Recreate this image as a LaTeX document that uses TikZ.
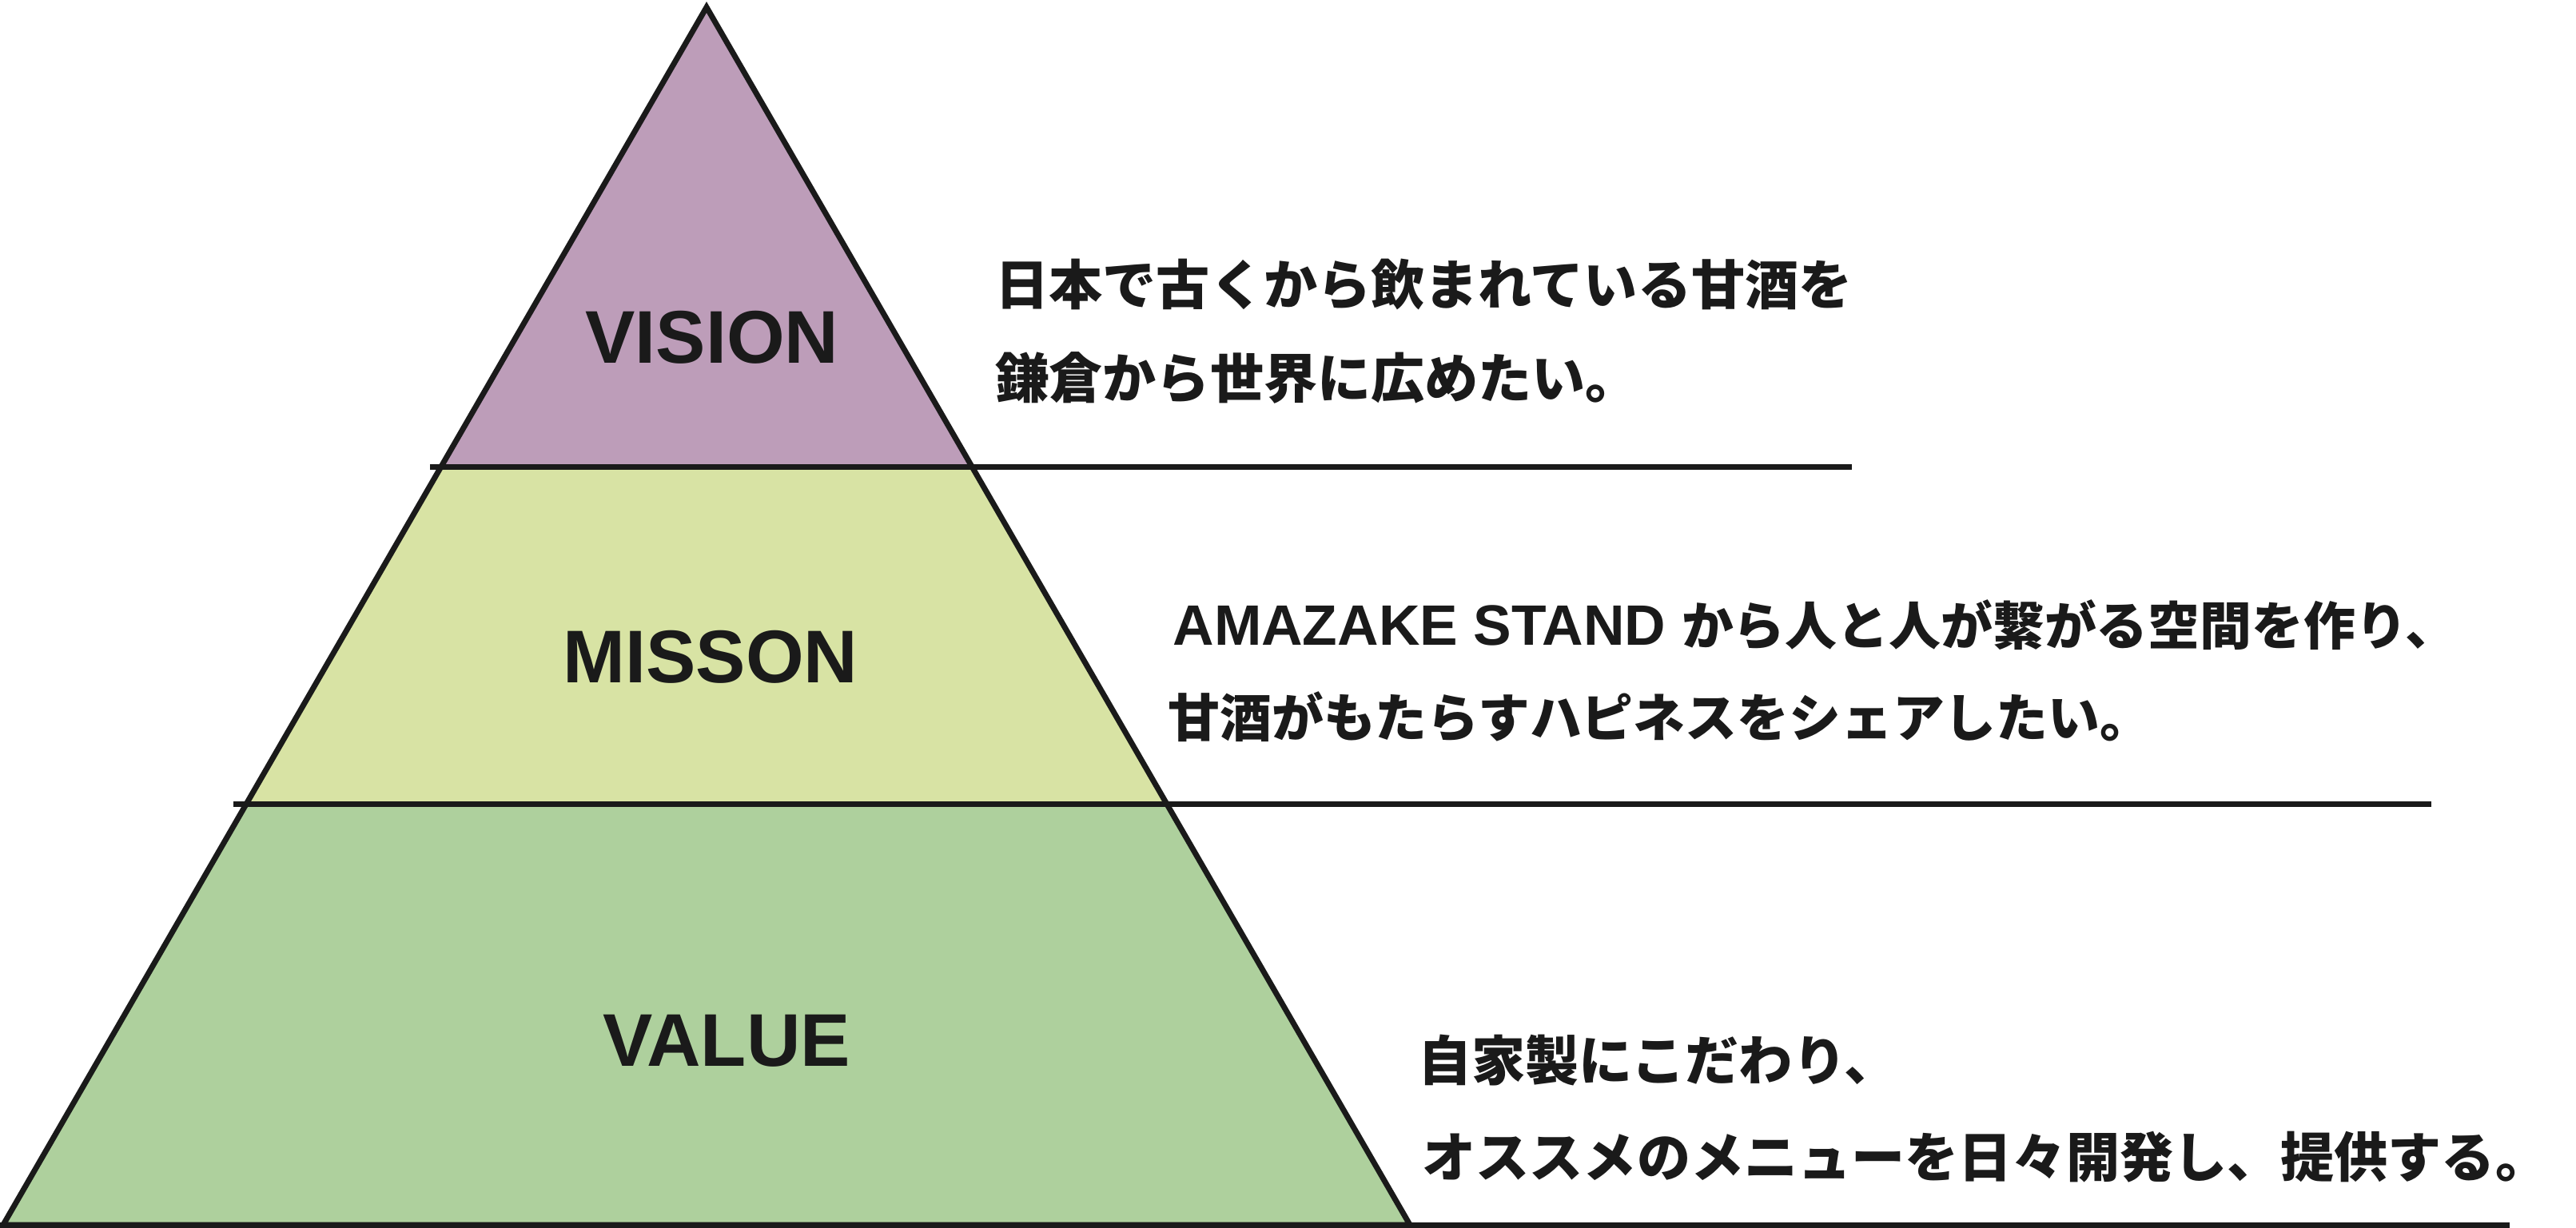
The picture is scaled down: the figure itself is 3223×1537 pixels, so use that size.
\documentclass[tikz,border=0pt]{standalone}
\usepackage{fontspec}
\setmainfont{Liberation Sans}
\newfontfamily\jpfont{Noto Sans CJK JP Black}
\newfontfamily\latfont{Liberation Sans}[Scale=1.10]
\usetikzlibrary{calc}

\definecolor{visioncol}{HTML}{BD9DB9}
\definecolor{missioncol}{HTML}{D8E3A4}
\definecolor{valuecol}{HTML}{AED09D}
\definecolor{inkcol}{HTML}{1A1A1A}

\begin{document}
\begin{tikzpicture}[x=0.1mm, y=-0.1mm, line width=0.7mm, color=inkcol,
    tierlabel/.style={font=\fontsize{26.6}{30}\selectfont\bfseries, inner sep=0},
    tiertext/.style={font=\fontsize{19.1}{22}\selectfont\jpfont, inner sep=0, anchor=base west},
    tiertextsmall/.style={tiertext, font=\fontsize{18.45}{22}\selectfont\jpfont}]

        \useasboundingbox (0,0) rectangle (3223,1537);

        % pyramid corners and band edges
        \coordinate (apex) at (884,9);
        \coordinate (bl)   at (4,1533);
        \coordinate (br)   at (1764,1533);
        \coordinate (l1) at ($(apex)!0.3773!(bl)$);
        \coordinate (r1) at ($(apex)!0.3773!(br)$);
        \coordinate (l2) at ($(apex)!0.6542!(bl)$);
        \coordinate (r2) at ($(apex)!0.6542!(br)$);

        % ends of the rules
        \coordinate (s1) at (538,584);
        \coordinate (e1) at (2317,584);
        \coordinate (s2) at (292,1006);
        \coordinate (e2) at (3042,1006);
        \coordinate (s3) at (0,1533.5);
        \coordinate (e3) at (3140,1533.5);

        \fill[visioncol]  (apex) -- (l1) -- (r1) -- cycle;
        \fill[missioncol] (l1) -- (l2) -- (r2) -- (r1) -- cycle;
        \fill[valuecol]   (l2) -- (bl) -- (br) -- (r2) -- cycle;

        \draw[line join=miter] (apex) -- (bl) -- (br) -- cycle;
        \draw (s1) -- (e1);
        \draw (s2) -- (e2);
        \draw (s3) -- (e3);

        \begin{scope}[every node/.style={tierlabel}]
          \node (vision) at (891,422)  {VISION};
          \node (misson) at (889,822)  {MISSON};
          \node (value)  at (909,1303) {VALUE};
        \end{scope}

        \begin{scope}[every node/.style={tiertext}]
          \node (v1) at (1242,381)  {日本で古くから飲まれている甘酒を};
          \node (v2) at (1242,498)  {鎌倉から世界に広めたい。};
          \node[tiertextsmall] (m1) at (1464,807) {{\latfont\bfseries AMAZAKE STAND }から人と人が繋がる空間を作り、};
          \node[tiertextsmall] (m2) at (1458,922) {甘酒がもたらすハピネスをシェアしたい。};
          \node (a1) at (1771,1352) {自家製にこだわり、};
          \node (a2) at (1776,1473) {オススメのメニューを日々開発し、提供する。};
        \end{scope}

      \end{tikzpicture}
\end{document}
